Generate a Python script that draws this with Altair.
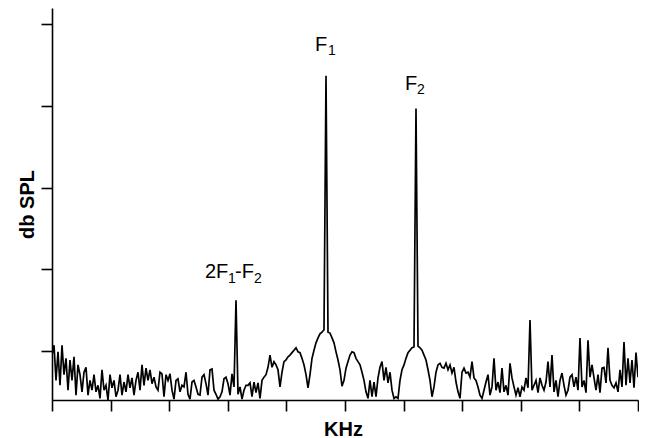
import altair as alt
import numpy as np
import pandas as pd

# Spectrum level (dB SPL) per frequency bin
level_db = [
    -0.5, 0.7, -3.6, -0.1, -4.2, 0.7, -2.9, -0.9, -4.8, -1.1,
    -3.6, -0.7, -5.4, -1.7, -2.9, -5.0, -2.6, -2.0, -5.4, -3.6,
    -4.8, -2.9, -5.0, -4.2, -5.8, -2.3, -4.8, -4.2, -6.0, -2.9,
    -4.5, -3.6, -5.6, -4.8, -2.9, -5.4, -3.8, -5.0, -2.9, -4.5,
    -3.3, -5.4, -3.6, -2.6, -4.8, -1.7, -4.2, -2.1, -3.6, -2.3,
    -4.0, -3.2, -4.4, -4.8, -2.6, -2.8, -5.6, -2.9, -3.6, -2.8,
    -4.8, -5.9, -3.6, -3.4, -5.0, -4.2, -4.4, -2.6, -5.3, -5.9,
    -3.8, -3.6, -4.4, -5.3, -5.4, -3.2, -2.9, -4.0, -5.4, -2.3,
    -2.2, -4.8, -5.3, -5.9, -5.6, -5.0, -3.4, -3.2, -4.0, -5.4,
    -2.8, -4.4, 6.2, -5.3, -4.4, -5.9, -4.8, -4.2, -4.2, -3.9,
    -5.6, -3.8, -5.1, -3.9, -5.8, -3.6, -3.2, -2.9, -2.0, -0.5,
    -2.0, -1.3, -1.7, -2.3, -4.4, -2.6, -1.3, -1.1, -0.7, -0.5,
    -0.2, 0.1, 0.4, -0.1, -0.2, -0.9, -1.7, -2.9, -4.5, -2.9,
    -0.9, 0.1, 1.0, 1.6, 2.1, 2.3, 2.6, 33.7, 2.3, 2.2,
    1.6, 1.0, -0.1, -1.1, -2.3, -4.3, -3.6, -2.1, -1.3, -0.5,
    -0.1, -0.2, -0.9, -1.3, -1.7, -2.6, -3.6, -5.0, -5.8, -3.6,
    -5.6, -3.8, -5.6, -3.3, -2.0, -1.3, -3.6, -2.0, -3.9, -2.6,
    -4.8, -5.8, -5.6, -5.8, -3.6, -2.3, -1.7, -0.9, -0.2, 0.1,
    0.4, 0.5, 29.7, 0.6, 0.4, 0.1, -0.5, -1.1, -2.3, -3.6,
    -5.6, -4.4, -2.6, -1.7, -1.5, -2.0, -2.1, -1.5, -2.3, -1.7,
    -2.7, -2.0, -3.8, -5.0, -5.8, -2.6, -2.1, -2.7, -2.6, -3.2,
    -1.3, -3.3, -3.6, -4.4, -5.4, -5.8, -4.8, -3.8, -2.9, -5.4,
    -4.4, -0.9, -4.8, -3.8, -5.1, -2.1, -5.0, -4.2, -5.4, -1.5,
    -3.3, -4.4, -5.4, -4.5, -5.6, -4.4, -4.8, -3.3, -4.5, 3.8,
    -4.8, -4.2, -3.6, -5.1, -3.3, -4.2, -4.8, -3.8, -1.3, -4.4,
    -0.5, -5.0, -3.6, -5.6, -3.6, -2.7, -4.2, -5.4, -4.8, -3.2,
    -2.9, -4.4, -3.2, -4.8, 1.6, -4.4, -3.6, -5.1, 1.3, -3.2,
    -1.7, -3.3, -4.8, -2.9, -5.1, -2.1, -2.0, -3.9, 0.4, -3.6,
    -4.2, -4.5, -3.9, -5.0, -2.3, -4.4, 1.1, -4.2, -0.9, -3.9,
    -1.1, -4.5, -0.2, -3.2,
]
# evenly spaced frequency bins across the 0-10 kHz span
freq_khz = np.linspace(0, 10, len(level_db))

x_ticks = list(range(0, 11))
y_ticks = [0, 10, 20, 30, 40]

# peak bins for the annotated tones
peak_names = ["F1", "F2", "2F1-F2"]
peak_bins = [137, 182, 92]

FONT = "Liberation Sans"

spec = pd.DataFrame({"freq": freq_khz, "level": level_db})

line = alt.Chart(spec).mark_line(color="black", strokeWidth=1.7, clip=True).encode(
    x=alt.X(
        "freq:Q",
        scale=alt.Scale(domain=[0, 10], nice=False, zero=False),
        axis=alt.Axis(
            values=x_ticks, labels=False, grid=False, tickSize=11, tickWidth=1.6,
            domainWidth=1.6, domainColor="black", tickColor="black",
            title="KHz", titleX=291, titleY=35, titleAlign="center",
            titleBaseline="alphabetic", titleFont=FONT, titleFontSize=20,
            titleFontWeight="bold", titleColor="black",
        ),
    ),
    y=alt.Y(
        "level:Q",
        scale=alt.Scale(domain=[-6, 42], nice=False, zero=False),
        axis=alt.Axis(
            values=y_ticks, labels=False, grid=False, tickSize=11, tickWidth=1.6,
            domainWidth=1.6, domainColor="black", tickColor="black",
            title="db SPL", titleAngle=270, titleX=-19, titleY=196,
            titleAlign="center", titleBaseline="alphabetic", titleFont=FONT,
            titleFontSize=20, titleFontWeight="bold", titleColor="black",
        ),
    ),
)


def piece(peak_idx, text, dx, dy, size):
    b = peak_bins[peak_idx]
    df = pd.DataFrame({"freq": [freq_khz[b]], "level": [level_db[b]], "t": [text]})
    return alt.Chart(df).mark_text(
        align="left", baseline="alphabetic", dx=dx, dy=dy, fontSize=size,
        font=FONT, color="black",
    ).encode(x="freq:Q", y="level:Q", text="t:N")


labels = [
    piece(0, "F", -11, -25, 20), piece(0, "1", 2, -21, 14),
    piece(1, "F", -11, -18, 20), piece(1, "2", 1, -14, 14),
    piece(2, "2F", -31, -22, 20), piece(2, "1", -8, -17, 14),
    piece(2, "-F", -1, -22, 20), piece(2, "2", 18, -17, 14),
]

chart = alt.layer(line, *labels).properties(
    width=586, height=392,
    autosize=alt.AutoSizeParams(type="none"),
    padding={"left": 44, "top": 0, "right": 1, "bottom": 38},
    background="white",
).configure_view(stroke=None)

chart.save("out.html", embed_options={"renderer": "svg", "actions": False})
